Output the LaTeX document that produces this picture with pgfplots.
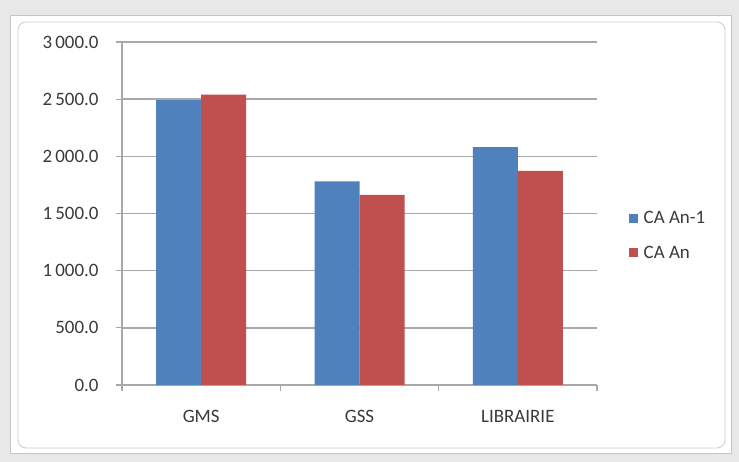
\documentclass[border=0pt]{standalone}
\usepackage{fontspec}
\setmainfont{Carlito}
\usepackage{pgfplots}
\pgfplotsset{compat=1.18}

\definecolor{serA}{HTML}{4F81BD}
\definecolor{serB}{HTML}{C0504D}
\definecolor{gridc}{HTML}{A8A8A8}
\definecolor{txt}{HTML}{3A3A3A}

\begin{document}
\begin{tikzpicture}[x=1bp,y=1bp]
  % window / chart frame
  \fill[gray!18] (0,0) rectangle (739,462);
  \fill[white,draw=gray!45] (10,9) rectangle (731,447);
  \draw[gray!40,rounded corners=8bp,line width=0.8bp] (18,14) rectangle (725,440);
  \path[use as bounding box] (0,0) rectangle (739,462);

  \begin{axis}[
    at={(122bp,77bp)}, anchor=south west,
    scale only axis, width=475bp, height=343bp,
    ybar=0pt, bar width=45bp,
    xmin=-0.5, xmax=2.5, ymin=0, ymax=3000,
    axis lines=left, axis line style={draw=gridc, line width=1.2bp, -},
    ymajorgrids, grid style={draw=gridc, line width=1.5bp},
    ytick={0,500,...,3000},
    ytick style={draw=gridc, line width=1.2bp},
    major tick length=6bp, tick align=outside,
    xtick={0,1,2}, xticklabels={GMS,GSS,LIBRAIRIE},
    xtick style={draw=none},
    extra x ticks={-0.5,0.5,1.5,2.5}, extra x tick labels={},
    extra x tick style={xtick style={draw=gridc, line width=1.2bp}, grid=none},
    ticklabel style={font=\fontsize{19}{22}\selectfont, text=txt},
    yticklabel style={xshift=-14bp},
    xticklabel style={yshift=-16bp},
    /pgf/number format/.cd, fixed, fixed zerofill, precision=1, 1000 sep={\,},
    assume math mode=true, /pgfplots/.cd,
    legend style={at={(1.06,0.436)}, anchor=west, draw=none, fill=none,
      font=\fontsize{19}{22}\selectfont, text=txt, row sep=17bp,
      legend cell align=left,
      nodes={inner xsep=6bp}},
    legend image code/.code={\fill[#1] (0bp,-4.5bp) rectangle (9bp,4.5bp);},
  ]
    \addplot[fill=serA, draw=none] coordinates {(0,2492) (1,1780) (2,2080)};
    \addplot[fill=serB, draw=none] coordinates {(0,2540) (1,1663) (2,1873)};
    \legend{CA An-1, CA An}
  \end{axis}
\end{tikzpicture}
\end{document}
